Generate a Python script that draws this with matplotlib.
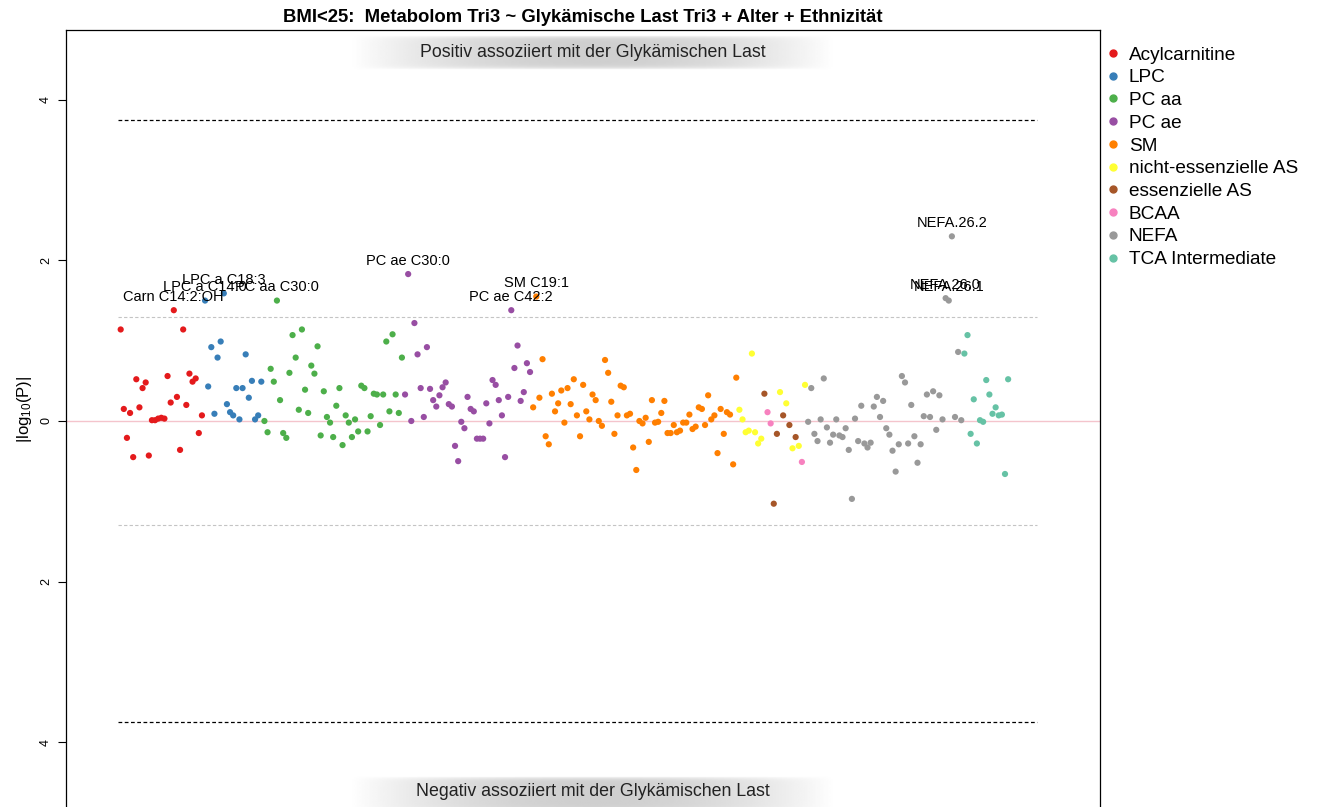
import numpy as np
import matplotlib
matplotlib.use('Agg')
import matplotlib.pyplot as plt
from matplotlib.lines import Line2D

plt.rcParams['font.family'] = ['Liberation Sans', 'DejaVu Sans']
plt.rcParams['mathtext.default'] = 'regular'

# signed log10(P) values, read left to right per metabolite class
acyl = [1.14, 0.15, -0.21, 0.10, -0.45, 0.52, 0.17, 0.41, 0.48, -0.43, 0.01, 0.01, 0.03, 0.04,
        0.03, 0.56, 0.23, 1.38, 0.30, -0.36, 1.14, 0.20, 0.59, 0.49, 0.53, -0.15, 0.07]
lpc = [1.50, 0.43, 0.92, 0.09, 0.79, 0.99, 1.59, 0.21, 0.11, 0.07, 0.41, 0.02, 0.41, 0.83,
       0.29, 0.50, 0.02, 0.07, 0.49]
pc_aa = [0.00, -0.14, 0.65, 0.49, 1.50, 0.26, -0.15, -0.21, 0.60, 1.07, 0.79, 0.14, 1.14, 0.39,
         0.10, 0.69, 0.59, 0.93, -0.18, 0.37, 0.05, -0.02, -0.20, 0.19, 0.41, -0.30, 0.07, -0.02,
         -0.20, 0.02, -0.13, 0.44, 0.41, -0.13, 0.06, 0.34, 0.33, -0.05, 0.33, 0.99, 0.12, 1.08,
         0.33, 0.10, 0.79]
pc_ae = [0.33, 1.83, 0.00, 1.22, 0.83, 0.41, 0.05, 0.92, 0.40, 0.26, 0.18, 0.32, 0.42, 0.48,
         0.21, 0.18, -0.31, -0.50, -0.01, -0.09, 0.30, 0.15, 0.12, -0.22, -0.22, -0.22, 0.22,
         -0.03, 0.51, 0.45, 0.26, 0.07, -0.45, 0.30, 1.38, 0.66, 0.94, 0.25, 0.36, 0.72, 0.61]
sm = [0.17, 1.55, 0.29, 0.77, -0.19, -0.29, 0.34, 0.12, 0.22, 0.38, -0.02, 0.41, 0.21, 0.52,
      0.07, -0.19, 0.45, 0.12, 0.02, 0.33, 0.26, 0.00, -0.06, 0.76, 0.60, 0.24, -0.16, 0.07,
      0.44, 0.42, 0.07, 0.09, -0.33, -0.61, 0.00, -0.03, 0.04, -0.26, 0.26, -0.02, -0.01, 0.10,
      0.25, -0.15, -0.15, -0.05, -0.14, -0.12, -0.02, -0.02, 0.08, -0.10, -0.07, 0.17, 0.15,
      -0.05, 0.32, 0.02, 0.07, -0.40, 0.15, -0.16, 0.11, 0.08, -0.54, 0.54]
# amino acids are mixed between the three AS classes
aa_vals = [0.14, 0.02, -0.14, -0.12, 0.84, -0.14, -0.28, -0.22, 0.34, 0.11, -0.03, -1.03,
           -0.16, 0.36, 0.07, 0.22, -0.05, -0.34, -0.20, -0.31, -0.51, 0.45]
aa_class = ['nicht-essenzielle AS'] * 8 + [
    'essenzielle AS', 'BCAA', 'BCAA', 'essenzielle AS', 'essenzielle AS', 'nicht-essenzielle AS',
    'essenzielle AS', 'nicht-essenzielle AS', 'essenzielle AS', 'nicht-essenzielle AS',
    'essenzielle AS', 'nicht-essenzielle AS', 'BCAA', 'nicht-essenzielle AS']
nefa = [-0.01, 0.41, -0.16, -0.25, 0.02, 0.53, -0.08, -0.27, -0.17, 0.02, -0.18, -0.20, -0.09,
        -0.36, -0.97, 0.03, -0.25, 0.19, -0.28, -0.33, -0.27, 0.18, 0.30, 0.05, 0.25, -0.09,
        -0.17, -0.37, -0.63, -0.29, 0.56, 0.48, -0.28, 0.20, -0.19, -0.52, -0.29, 0.06, 0.33,
        0.05, 0.37, -0.11, 0.32, 0.02, 1.53, 1.50, 2.30, 0.05, 0.86, 0.01]
tca = [0.84, 1.07, -0.16, 0.27, -0.28, 0.01, -0.01, 0.51, 0.33, 0.09, 0.17, 0.07, 0.08, -0.66, 0.52]

# names of the points above the 0.05 line, in order
sig_names = ['Carn C14:2:OH', 'LPC a C14:0', 'LPC a C18:3', 'PC aa C30:0', 'PC ae C30:0',
             'PC ae C42:2', 'SM C19:1', 'NEFA.26.0', 'NEFA.26.1', 'NEFA.26.2']

classes = ['Acylcarnitine', 'LPC', 'PC aa', 'PC ae', 'SM', 'nicht-essenzielle AS',
           'essenzielle AS', 'BCAA', 'NEFA', 'TCA Intermediate']
colors = ['#E41A1C', '#377EB8', '#4DAF4A', '#984EA3', '#FF7F00', '#FFFF33',
          '#A65628', '#F781BF', '#999999', '#66C2A5']

vals = np.array(acyl + lpc + pc_aa + pc_ae + sm + aa_vals + nefa + tca)
cls = (['Acylcarnitine'] * len(acyl) + ['LPC'] * len(lpc) + ['PC aa'] * len(pc_aa)
       + ['PC ae'] * len(pc_ae) + ['SM'] * len(sm) + aa_class + ['NEFA'] * len(nefa)
       + ['TCA Intermediate'] * len(tca))
cls = np.array(cls)
n = len(vals)
x = np.arange(1, n + 1)

fig = plt.figure(figsize=(13.18, 8.07), dpi=100)
ax = fig.add_axes([66 / 1318, -5 / 807, 1034 / 1318, 782 / 807])

ax.axhline(0, color='#f4c4cc', lw=1, zorder=1)
ax.hlines([3.75, -3.75], 0.1, n + 9.2, colors='black', linestyles=(0, (3, 2)), lw=0.9)
ax.hlines([1.3, -1.3], 0.1, n + 9.2, colors='#c4c4c4', linestyles=(0, (3, 2)), lw=0.8)

for name, col in zip(classes, colors):
    m = cls == name
    ax.scatter(x[m], vals[m], s=20, color=col, edgecolors='none', zorder=3)

sig = np.where(vals > 1.3)[0]
for i, lab in zip(sig, sig_names):
    ax.annotate(lab, (x[i], vals[i]), xytext=(0, 9.5), textcoords='offset points',
                ha='center', va='center', fontsize=10.5, zorder=4)

# shaded header/footer boxes
tt = np.linspace(-1, 1, 300)
ss = np.linspace(-1, 1, 40)
T, S = np.meshgrid(tt, ss)
grad = 1 - 0.19 * (1 - np.abs(T) ** 2) * (1 - np.abs(S) ** 8)
for y0, y1, ty, txt in [(0.9488, 0.9923, 0.9706, 'Positiv assoziiert mit der Glykämischen Last'),
                        (0.0, 0.046, 0.0256, 'Negativ assoziiert mit der Glykämischen Last')]:
    ax.imshow(grad, cmap='gray', vmin=0, vmax=1, aspect='auto', interpolation='bilinear',
              extent=(0.2747, 0.7437, y0, y1), transform=ax.transAxes, zorder=2)
    ax.text(0.5097, ty, txt, transform=ax.transAxes, ha='center', va='center',
            fontsize=12.8, color='#222222', zorder=3)
ax.set_xlim(-16.5, n + 29.4)
ax.set_ylim(-4.87, 4.87)
ax.set_aspect('auto')

ax.set_xticks([])
ax.set_yticks([-4, -2, 0, 2, 4])
ax.set_yticklabels(['4', '2', '0', '2', '4'], rotation=90, va='center')
ax.tick_params(axis='y', length=6, width=0.8, labelsize=9, pad=4)
for sp in ax.spines.values():
    sp.set_linewidth(0.9)
ax.set_ylabel('|log$_{10}$(P)|', fontsize=12)
ax.yaxis.set_label_coords(-0.031, 0.515)

handles = [Line2D([], [], marker='o', ls='', color=c, markersize=5) for c in colors]
ax.legend(handles, classes, loc='upper left', bbox_to_anchor=(1.0, 0.989), frameon=False,
          fontsize=13.7, handletextpad=0.52, labelspacing=0.285, borderaxespad=0,
          handlelength=0.6)

fig.text(583 / 1318, 1 - 17 / 807, 'BMI<25:  Metabolom Tri3 ~ Glykämische Last Tri3 + Alter + Ethnizität',
         ha='center', va='center', fontsize=13.3, fontweight='bold')

fig.savefig('out.png', dpi=100)
